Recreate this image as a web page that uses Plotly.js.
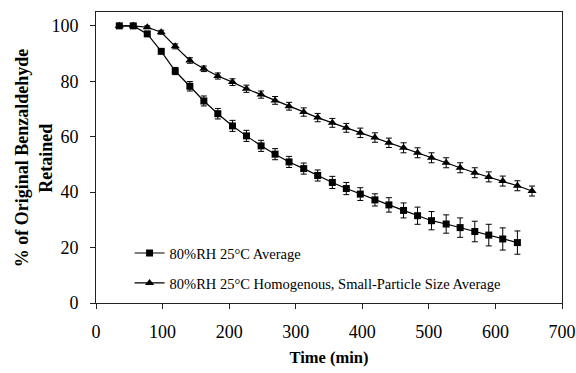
<!DOCTYPE html>
<html>
<head>
<meta charset="utf-8">
<script src="https://cdn.plot.ly/plotly-3.0.1.min.js"></script>
<style>html,body{margin:0;padding:0;background:#fff}#chart{width:576px;height:373px}</style>
</head>
<body>
<div id="chart"></div>
<script>
// Time points (min)
const timeSq = [35,56,77,98,119,141,162,183,205,226,248,269,290,312,333,355,376,397,419,440,462,483,504,526,547,569,590,611,633];
const timeTri = [35,56,77,98,119,141,162,183,205,226,248,269,290,312,333,355,376,397,419,440,462,483,504,526,547,569,590,611,633,655];

// 80%RH 25°C Average
const avgValues = [100,100,97.1,90.8,83.7,78.2,72.9,68.3,63.9,60.3,56.7,53.7,50.9,48.5,46.0,43.5,41.3,39.3,37.2,35.4,33.4,31.5,29.7,28.5,27.2,25.8,24.5,23.1,21.8];
const avgErr    = [0.3,0.3,0.8,0.8,1.3,1.7,1.8,1.9,2.0,2.0,2.0,2.0,2.0,2.0,2.0,2.2,2.2,2.3,2.2,2.6,2.7,3.1,3.3,3.3,3.5,3.7,3.9,4.0,4.2];

// 80%RH 25°C Homogenous, Small-Particle Size Average
const homValues = [100,100,99.5,97.7,92.6,87.5,84.5,81.9,79.7,77.3,75.2,73.1,71.0,68.9,66.9,65.0,63.2,61.4,59.7,57.8,56.0,54.2,52.4,50.6,48.8,47.0,45.5,44.0,42.3,40.4];
const homErr    = [0.3,0.3,0.5,0.7,0.9,1.0,1.0,1.1,1.2,1.3,1.3,1.4,1.4,1.5,1.5,1.6,1.6,1.7,1.7,1.7,1.8,1.8,1.8,1.8,1.8,1.8,1.8,1.8,1.8,1.8];

const seriesNames = ['80%RH 25\u00B0C Average', '80%RH 25\u00B0C Homogenous, Small-Particle Size Average'];
const xTicks = [0,100,200,300,400,500,600,700];
const yTicks = [0,20,40,60,80,100];
const yTitleLines = ['% of Original Benzaldehyde', 'Retained'];

const FAM = 'Liberation Serif, Times New Roman, serif';
const mkFont = (s) => ({family: FAM, size: s, color: '#000'});

const traces = [
  {
    x: timeSq, y: avgValues, name: seriesNames[0], type: 'scatter', mode: 'lines+markers',
    legend: 'legend',
    line: {color: '#000', width: 1.2},
    marker: {symbol: 'square', size: 7, color: '#000'},
    error_y: {type: 'data', array: avgErr, visible: true, color: '#000', thickness: 1, width: 3}
  },
  {
    x: timeTri, y: homValues, name: seriesNames[1], type: 'scatter', mode: 'lines+markers',
    legend: 'legend2',
    line: {color: '#000', width: 1.2},
    marker: {symbol: 'triangle-up', size: 8, color: '#000'},
    error_y: {type: 'data', array: homErr, visible: true, color: '#000', thickness: 1, width: 3}
  }
];

const legendBase = {
  xanchor: 'left', yanchor: 'middle',
  bgcolor: 'rgba(0,0,0,0)', borderwidth: 0,
  font: mkFont(14.5), itemwidth: 30
};

// plot area in px: left 96, width 466; top 12, height 291.3
const px2x = (p) => (p - 96) / 466;
const px2y = (p) => (303.3 - p) / 291.3;

const layout = {
  width: 576, height: 373,
  margin: {l: 96, r: 14, t: 12, b: 70},
  paper_bgcolor: '#fff', plot_bgcolor: '#fff',
  font: mkFont(14),
  showlegend: true,
  legend: Object.assign({x: 0.072, y: px2y(253.3)}, legendBase),
  legend2: Object.assign({x: 0.072, y: px2y(283.3)}, legendBase),
  xaxis: {
    range: [0, 700], tickvals: xTicks, ticktext: xTicks.map(String),
    showgrid: false, zeroline: false,
    showline: true, linecolor: '#222', linewidth: 1, mirror: true,
    ticks: 'outside', ticklen: 5, tickcolor: '#222',
    ticklabelstandoff: 7,
    tickfont: mkFont(18),
    title: {text: '<b>Time (min)</b>', font: mkFont(16.5), standoff: 10}
  },
  yaxis: {
    range: [0, 105], tickvals: yTicks, ticktext: yTicks.map(String),
    showgrid: false, zeroline: false,
    showline: true, linecolor: '#222', linewidth: 1, mirror: true,
    ticks: 'outside', ticklen: 5, tickcolor: '#222',
    ticklabelstandoff: 8,
    tickfont: mkFont(18)
  },
  annotations: [
    {xref: 'paper', yref: 'paper', x: px2x(22), y: px2y(158.5), xanchor: 'center', yanchor: 'middle',
     text: '<b>' + yTitleLines[0] + '</b>', textangle: -90, showarrow: false, font: mkFont(18)},
    {xref: 'paper', yref: 'paper', x: px2x(46.5), y: px2y(158.5), xanchor: 'center', yanchor: 'middle',
     text: '<b>' + yTitleLines[1] + '</b>', textangle: -90, showarrow: false, font: mkFont(18)}
  ]
};

Plotly.newPlot('chart', traces, layout, {staticPlot: true, displayModeBar: false});
</script>
</body>
</html>
